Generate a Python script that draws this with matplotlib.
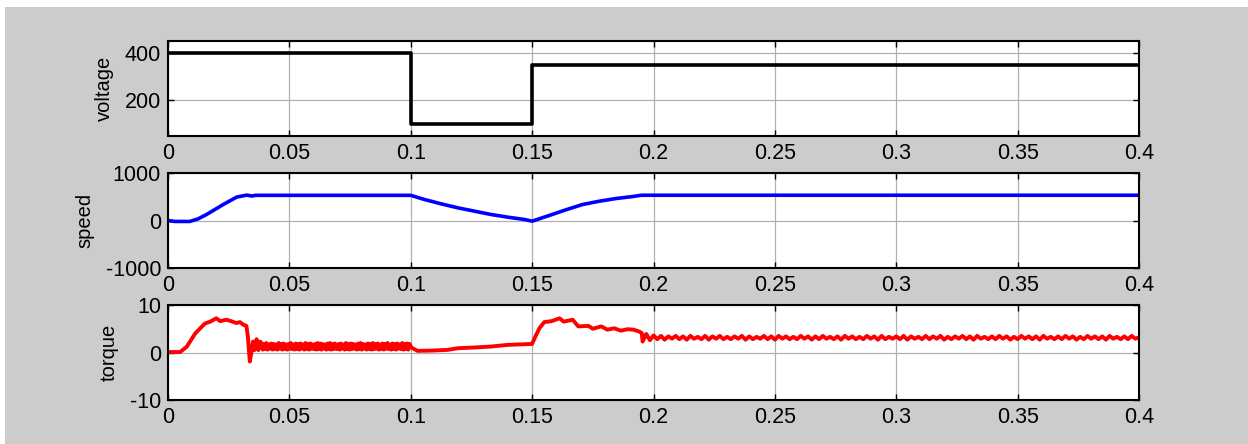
import numpy as np
import matplotlib.pyplot as plt
from matplotlib.patches import Rectangle

plt.rcParams['font.family'] = ['Liberation Sans', 'DejaVu Sans']
plt.rcParams['axes.unicode_minus'] = False

# voltage (step profile)
t_volt = [0, 0.1, 0.1, 0.15, 0.15, 0.4]
volt = [400, 400, 100, 100, 350, 350]

# speed
t_speed = [0, 0.0028, 0.009, 0.0124, 0.0159, 0.0228, 0.0283, 0.0325, 0.0345, 0.036,
           0.1, 0.1055, 0.1124, 0.1193, 0.1262, 0.133, 0.14, 0.1469, 0.15,
           0.157, 0.1639, 0.1708, 0.1777, 0.1846, 0.1915, 0.195, 0.4]
speed = [0, -20, -20, 35, 127, 338, 493, 535, 515, 530,
         530, 444, 352, 268, 197, 127, 70, 21, -14,
         105, 225, 337, 406, 463, 505, 532, 532]

# torque: start-up transient
t_tq_start = [0, 0.005, 0.0077, 0.0112, 0.0152, 0.0174, 0.0199, 0.0215, 0.024, 0.026,
              0.0282, 0.0296, 0.0312, 0.0323, 0.0329, 0.0337, 0.0343, 0.035, 0.0356,
              0.0365, 0.0372, 0.038]
tq_start = [0.1, 0.1, 1.2, 4.0, 6.1, 6.5, 7.2, 6.6, 6.9, 6.6,
            6.2, 6.4, 5.8, 5.6, 3.4, -1.9, -0.1, 2.3, 0.5,
            2.8, 0.5, 2.3]

# torque: ripple band 0.0385 .. 0.0995
tq_band1 = [1.9, 0.6, 1.8, 0.7, 2.0, 0.6, 1.7, 0.8, 1.9, 0.6, 1.8, 0.7, 1.7, 0.6, 2.0, 0.8,
            1.8, 0.6, 1.9, 0.7, 1.7, 0.6, 1.8, 0.8, 2.0, 0.7, 1.7, 0.6, 1.9, 0.7, 1.8, 0.6,
            1.9, 0.8, 1.7, 0.6, 2.0, 0.7, 1.8, 0.6, 1.9, 0.8, 1.7, 0.7, 1.8, 0.6, 2.0, 0.7,
            1.9, 0.6, 1.8, 0.8, 1.7, 0.6, 1.9, 0.7, 2.0, 0.6, 1.8, 0.7, 1.9, 0.8,
            0.7, 1.8, 0.6, 1.9, 0.8, 1.7, 0.6, 2.0, 0.7, 1.8, 0.6, 1.9, 0.7, 1.8, 0.8, 1.7,
            0.6, 1.9, 0.7, 2.0, 0.6, 1.8, 0.8, 1.7, 0.6, 1.9, 0.7, 1.8, 0.6, 2.0, 0.7, 1.8,
            0.8, 1.9, 0.6, 1.7, 0.7, 1.9, 0.6, 1.8, 0.8, 2.0, 0.7, 1.7, 0.6, 1.9, 0.7, 1.8,
            0.6, 1.9, 0.8, 1.7, 0.7, 2.0, 0.6, 1.8, 0.7, 1.9, 0.6, 1.8]

# torque: low-voltage interval and second transient
t_tq_mid = [0.1, 0.1007, 0.1028, 0.1083, 0.1152, 0.1193, 0.126, 0.133, 0.1398, 0.15,
            0.151, 0.153, 0.155, 0.158, 0.1613, 0.163, 0.1667, 0.169, 0.1732, 0.175,
            0.1785, 0.181, 0.1838, 0.1865, 0.1893, 0.1918, 0.1942, 0.1952]
tq_mid = [1.3, 0.9, 0.35, 0.4, 0.55, 0.9, 1.05, 1.25, 1.6, 1.8,
          3.0, 5.1, 6.4, 6.6, 7.2, 6.5, 6.9, 5.5, 5.6, 5.0,
          5.5, 4.8, 5.1, 4.6, 4.9, 4.8, 4.4, 4.05]

# torque: steady-state ripple 0.1955 .. 0.4
tq_band2 = [2.3, 3.9, 2.6, 3.6, 2.8, 3.5, 2.7, 3.4, 2.9, 3.5, 2.8, 3.4, 2.7, 3.5, 2.9, 3.3, 2.8, 3.5, 2.7, 3.4,
            2.9, 3.5, 2.8, 3.3, 2.8, 3.4, 2.9, 3.5, 2.7, 3.4, 2.8, 3.3, 2.9, 3.5, 2.8, 3.4, 2.7, 3.5, 2.9, 3.4,
            2.8, 3.3, 2.8, 3.5, 2.9, 3.4, 2.7, 3.4, 2.8, 3.5, 2.9, 3.3, 2.8, 3.4, 2.7, 3.5, 2.9, 3.4, 2.8, 3.3,
            2.8, 3.5, 2.9, 3.4, 2.7, 3.5, 2.8, 3.3, 2.9, 3.4, 2.8, 3.5, 2.7, 3.4, 2.9, 3.3, 2.8, 3.5, 2.8, 3.4,
            2.9, 3.5, 2.7, 3.3, 2.8, 3.4, 2.9, 3.5, 2.8, 3.4, 2.7, 3.5, 2.9, 3.3, 2.8, 3.4, 2.8, 3.5, 2.9, 3.4,
            2.7, 3.3, 2.8, 3.5, 2.9, 3.4, 2.8, 3.4, 2.7, 3.5, 2.9, 3.3, 2.8, 3.4, 2.8, 3.5, 2.9, 3.4, 2.7, 3.3,
            2.8, 3.5, 2.9, 3.4, 2.8, 3.4, 2.7, 3.5, 2.9, 3.3, 2.8, 3.4, 2.8, 3.5, 2.9, 3.2]

t_tq = np.concatenate([t_tq_start, np.linspace(0.0385, 0.0995, len(tq_band1)),
                       t_tq_mid, np.linspace(0.1955, 0.4, len(tq_band2))])
tq = np.concatenate([tq_start, tq_band1, tq_mid, tq_band2])

xticks = [0, 0.05, 0.1, 0.15, 0.2, 0.25, 0.3, 0.35, 0.4]
xlabels = ['0', '0.05', '0.1', '0.15', '0.2', '0.25', '0.3', '0.35', '0.4']

fig = plt.figure(figsize=(12.48, 4.44), dpi=100)
fig.patch.set_facecolor('white')
fig.patches.append(Rectangle((5 / 1248, 0), 1, 437 / 444, transform=fig.transFigure,
                             facecolor='#cccccc', edgecolor='none', zorder=-10))

left, width = 168 / 1248, 971 / 1248
panels = [
    (t_volt, volt, 'k', 'voltage', (50, 450), [200, 400], 41, 2.6),
    (t_speed, speed, '#0000ff', 'speed', (-1000, 1000), [-1000, 0, 1000], 173, 2.6),
    (t_tq, tq, '#ff0000', 'torque', (-10, 10), [-10, 0, 10], 305, 2.8),
]

for t, y, c, name, ylim, yt, top, lw in panels:
    ax = fig.add_axes([left, 1 - (top + 95) / 444, width, 95 / 444])
    ax.plot(t, y, color=c, lw=lw, solid_joinstyle='round')
    ax.set_xlim(0, 0.4)
    ax.set_ylim(*ylim)
    ax.set_xticks(xticks)
    ax.set_xticklabels(xlabels)
    ax.set_yticks(yt)
    ax.set_ylabel(name, fontsize=14.5, labelpad=8)
    ax.grid(True, color='#b0b0b0', lw=0.9)
    ax.tick_params(direction='in', top=True, right=True, length=4, width=1,
                   labelsize=15.5, pad=5)
    for s in ax.spines.values():
        s.set_linewidth(1.5)

fig.savefig('out.png', dpi=100)
